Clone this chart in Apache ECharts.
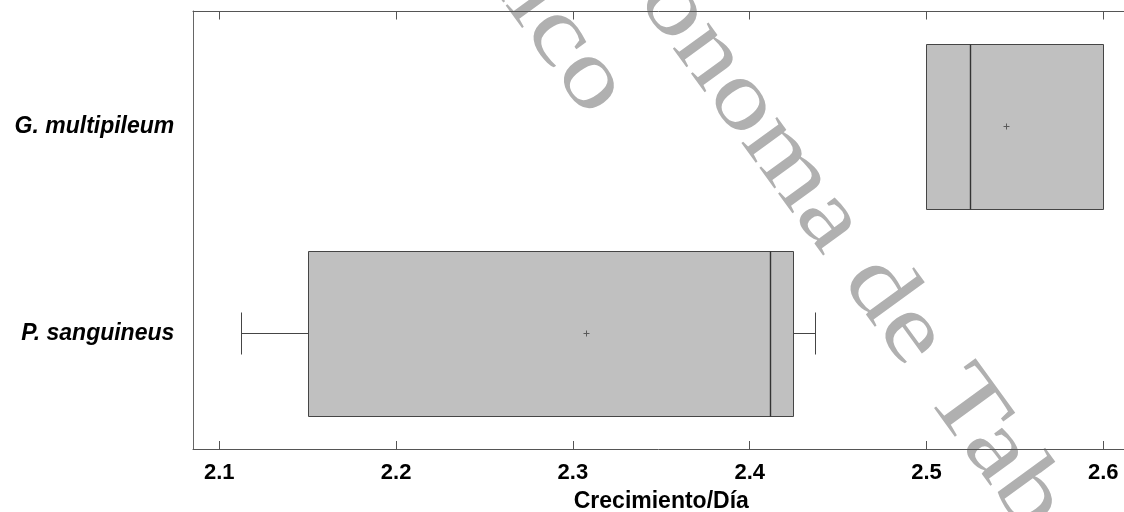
<!DOCTYPE html>
<html>
<head>
<meta charset="utf-8">
<script src="https://cdn.jsdelivr.net/npm/echarts@6/dist/echarts.min.js"></script>
<style>
  html, body { margin: 0; padding: 0; background: #ffffff; }
  #chart { width: 1124px; height: 512px; }
</style>
</head>
<body>
<div id="chart"></div>
<script>
// Growth per day by species: five-number summary plus mean
const species = ['G. multipileum', 'P. sanguineus'];
const minVals = [2.5, 2.1124];
const q1Vals = [2.5, 2.1502];
const medianVals = [2.525, 2.412];
const q3Vals = [2.6, 2.4248];
const maxVals = [2.6, 2.4373];
const meanVals = [2.5454, 2.3077];
const xMin = 2.1;
const xMax = 2.6;
const xStep = 0.1;
const xTitle = 'Crecimiento/Día';
const watermarkLines = ['Universidad Juárez Autónoma de Tabasco', 'México'];

const boxData = species.map((s, i) => [i, minVals[i], q1Vals[i], medianVals[i], q3Vals[i], maxVals[i], meanVals[i]]);

const LINE = '#454545';
const crisp = v => Math.round(v - 0.5) + 0.5;

function renderBox(params, api) {
  const cat = api.value(0);
  const yc = api.coord([api.value(1), cat])[1];
  const band = api.size([0, 1])[1];
  const h = band * 0.797;
  const capH = band * 0.2;
  const px = v => api.coord([v, cat])[0];
  const xLo = crisp(px(api.value(1)));
  const xQ1 = crisp(px(api.value(2)));
  const xMed = crisp(px(api.value(3)));
  const xQ3 = crisp(px(api.value(4)));
  const xHi = crisp(px(api.value(5)));
  const xMean = crisp(px(api.value(6)));
  const y = crisp(yc);
  const top = crisp(yc - h / 2);
  const bot = crisp(yc + h / 2);
  const lineStyle = { stroke: LINE, lineWidth: 1, fill: null };
  const children = [
    { type: 'line', shape: { x1: xLo, y1: y, x2: xQ1, y2: y }, style: lineStyle },
    { type: 'line', shape: { x1: xQ3, y1: y, x2: xHi, y2: y }, style: lineStyle },
    { type: 'line', shape: { x1: xLo, y1: crisp(yc - capH / 2), x2: xLo, y2: crisp(yc + capH / 2) }, style: lineStyle },
    { type: 'line', shape: { x1: xHi, y1: crisp(yc - capH / 2), x2: xHi, y2: crisp(yc + capH / 2) }, style: lineStyle },
    { type: 'rect', shape: { x: xQ1, y: top, width: xQ3 - xQ1, height: bot - top },
      style: { fill: '#c0c0c0', stroke: LINE, lineWidth: 1 } },
    { type: 'line', shape: { x1: xMed, y1: top, x2: xMed, y2: bot }, style: { stroke: '#333333', lineWidth: 1.4 } },
    { type: 'line', shape: { x1: xMean - 3, y1: y, x2: xMean + 3, y2: y }, style: { stroke: '#5a5a5a', lineWidth: 1 } },
    { type: 'line', shape: { x1: xMean, y1: y - 3, x2: xMean, y2: y + 3 }, style: { stroke: '#5a5a5a', lineWidth: 1 } }
  ];
  return { type: 'group', children };
}

// Diagonal watermark: horizontally stretched serif text along a rotated baseline
const wmSize = 96;
const wmStretch = 1.22;
const wmFont = wmSize + 'px "Liberation Serif", "Times New Roman", serif';
const ang = 54 * Math.PI / 180;
const ux = Math.cos(ang), uy = Math.sin(ang);     // reading direction
const vx = Math.sin(ang), vy = -Math.cos(ang);    // glyph "up" direction
const mctx = document.createElement('canvas').getContext('2d');
mctx.font = wmFont;
const mw = s => mctx.measureText(s).width;
// along-line centre of each line, anchored on a known glyph of that line
const alongCenters = [
  806 - wmStretch * (mw('Universidad Juárez Autónoma d') + mw('e') / 2 - mw(watermarkLines[0]) / 2),
  413 - wmStretch * (mw('Méxic') + mw('o') / 2 - mw(watermarkLines[1]) / 2)
];
const upOffsets = [541, 431];
const wmElements = watermarkLines.map((t, i) => ({
  type: 'text',
  x: alongCenters[i] * ux + upOffsets[i] * vx,
  y: alongCenters[i] * uy + upOffsets[i] * vy,
  rotation: -ang,
  scaleX: wmStretch,
  scaleY: 1,
  z: -1,
  silent: true,
  style: { text: t, font: wmFont, fill: '#b0b0b0', textAlign: 'center', textVerticalAlign: 'middle' }
}));

const chart = echarts.init(document.getElementById('chart'), null, { renderer: 'canvas' });
chart.setOption({
  animation: false,
  backgroundColor: '#ffffff',
  graphic: { elements: wmElements },
  grid: [
    { left: 193, right: 0, top: 11, bottom: 63, outerBoundsMode: 'none', containLabel: false },
    { left: 219.3, right: 20.7, top: 23.5, bottom: 75, outerBoundsMode: 'none', containLabel: false }
  ],
  xAxis: [
    { gridIndex: 0, type: 'value', position: 'bottom', min: 0, max: 1,
      axisLine: { show: true, lineStyle: { color: '#555555', width: 1 } },
      axisTick: { show: false }, axisLabel: { show: false }, splitLine: { show: false } },
    { gridIndex: 0, type: 'value', position: 'top', min: 0, max: 1,
      axisLine: { show: true, lineStyle: { color: '#555555', width: 1 } },
      axisTick: { show: false }, axisLabel: { show: false }, splitLine: { show: false } },
    { gridIndex: 1, type: 'value', position: 'bottom', offset: 12,
      min: xMin, max: xMax, interval: xStep,
      axisLine: { show: false },
      axisTick: { show: true, inside: true, length: 8, lineStyle: { color: '#555555', width: 1 } },
      axisLabel: { show: true, margin: 13, color: '#000000', fontSize: 22, fontWeight: 'bold',
        fontFamily: '"Liberation Sans", Arial, sans-serif',
        formatter: v => v.toFixed(1) },
      splitLine: { show: false },
      name: xTitle, nameLocation: 'middle', nameGap: 41,
      nameTextStyle: { color: '#000000', fontSize: 23, fontWeight: 'bold',
        fontFamily: '"Liberation Sans", Arial, sans-serif' } },
    { gridIndex: 1, type: 'value', position: 'top', offset: 12,
      min: xMin, max: xMax, interval: xStep,
      axisLine: { show: false },
      axisTick: { show: true, inside: true, length: 8, lineStyle: { color: '#555555', width: 1 } },
      axisLabel: { show: false }, splitLine: { show: false } }
  ],
  yAxis: [
    { gridIndex: 0, type: 'value', min: 0, max: 1,
      axisLine: { show: true, lineStyle: { color: '#666666', width: 1 } },
      axisTick: { show: false }, axisLabel: { show: false }, splitLine: { show: false } },
    { gridIndex: 1, type: 'category', data: species, inverse: true,
      axisLine: { show: false }, axisTick: { show: false }, splitLine: { show: false },
      axisLabel: { margin: 45, color: '#000000', fontSize: 23, fontWeight: 'bold', fontStyle: 'italic',
        fontFamily: '"Liberation Sans", Arial, sans-serif' } }
  ],
  series: [{
    type: 'custom',
    xAxisIndex: 2,
    yAxisIndex: 1,
    z: 5,
    silent: true,
    renderItem: renderBox,
    encode: { x: [1, 2, 3, 4, 5, 6], y: 0 },
    data: boxData
  }]
});
</script>
</body>
</html>
